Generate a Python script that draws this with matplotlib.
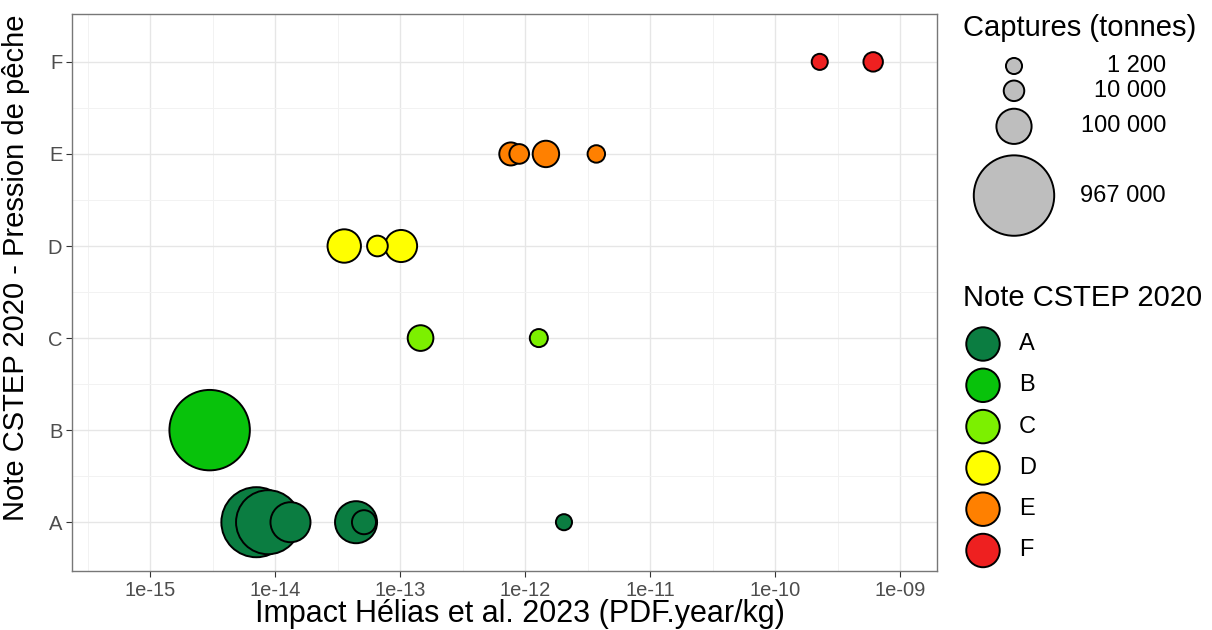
import numpy as np
import matplotlib
matplotlib.use("Agg")
import matplotlib.pyplot as plt

plt.rcParams['font.family'] = ['Liberation Sans', 'DejaVu Sans']

# Stocks: impact (PDF.year/kg), CSTEP grade, catches (tonnes)
impact = [3.0e-15, 7.1e-15, 8.8e-15, 4.45e-14, 1.33e-14, 1.02e-13, 3.58e-14,
          1.46e-13, 1.47e-12, 5.15e-14, 7.7e-13, 6.6e-14, 8.99e-13, 6.1e-10,
          1.29e-12, 3.72e-12, 2.05e-12, 2.28e-10]
grade = ['B', 'A', 'A', 'A', 'A', 'D', 'D',
         'C', 'E', 'A', 'E', 'D', 'E', 'F',
         'C', 'E', 'A', 'F']
catch_t = [967000, 690000, 550000, 174000, 150000, 73000, 84000,
           31000, 35000, 23000, 18800, 10400, 7600, 7100,
           4000, 3000, 1200, 1200]

grades = ['A', 'B', 'C', 'D', 'E', 'F']
grade_colors = ['#0B7D41', '#08C20B', '#7CF000', '#FFFF00', '#FF8000', '#EE2020']
size_breaks = [1200, 10000, 100000, 967000]
size_labels = ['1 200', '10 000', '100 000', '967 000']

DPI = 100
LW = 1.4


def radius_px(v):
    # bubble radius (pixels, stroke included) for a catch value
    return 7.85 + 0.0339 * np.sqrt(np.asarray(v, dtype=float))


def area_pt(r):
    d = 2 * np.asarray(r) * 72 / DPI - LW
    return d ** 2


fig = plt.figure(figsize=(12.12, 6.3), dpi=DPI)
W, H = 1212, 630
ax = fig.add_axes([72 / W, 1 - 571 / H, (937 - 72) / W, (571 - 14) / H])

ypos = [grades.index(g) + 1 for g in grade]
cols = [grade_colors[grades.index(g)] for g in grade]
ax.scatter(impact, ypos, s=area_pt(radius_px(catch_t)), c=cols,
           edgecolors='black', linewidths=LW, zorder=3)

ax.set_xscale('log')
ax.set_xlim(10 ** -15.624, 10 ** -8.704)
ax.set_ylim(0.47, 6.52)

exps = np.arange(-15, -8)
ax.set_xticks(10.0 ** exps)
ax.set_xticklabels([f"1e-{abs(e):02d}" for e in exps])
ax.set_xticks(10.0 ** np.arange(-15.5, -8.6, 1.0), minor=True)
ax.set_yticks(range(1, 7))
ax.set_yticklabels(grades)
ax.set_yticks(np.arange(1.5, 6.0, 1.0), minor=True)
ax.xaxis.set_minor_formatter(matplotlib.ticker.NullFormatter())

ax.grid(which='major', color='#E6E6E6', linewidth=1.0, zorder=0)
ax.grid(which='minor', color='#F2F2F2', linewidth=0.7, zorder=0)
ax.set_axisbelow(True)
ax.tick_params(which='major', length=4, width=0.8, color='#333333',
               labelsize=14.5, labelcolor='#4D4D4D', pad=3)
ax.tick_params(which='minor', length=0)
for sp in ax.spines.values():
    sp.set_color('#777777')
    sp.set_linewidth(1.0)

ax.set_xlabel('Impact Hélias et al. 2023 (PDF.year/kg)', fontsize=22)
ax.set_ylabel('Note CSTEP 2020 - Pression de pêche', fontsize=21)
ax.xaxis.set_label_coords((520 - 72) / 865, -0.05)
ax.yaxis.set_label_coords(-0.048, (571 - 268) / 557)

# legends, laid out in pixel coordinates
lax = fig.add_axes([0, 0, 1, 1], facecolor='none')
lax.set_xlim(0, W)
lax.set_ylim(H, 0)
lax.axis('off')

lax.text(963, 28, 'Captures (tonnes)', fontsize=21, va='center', ha='left')
rk = radius_px(size_breaks)
heights = 2.25 * rk + 2
centers = 66 - heights[0] / 2 + np.cumsum(heights) - heights / 2
lax.scatter(np.full(len(rk), 1014), centers, s=area_pt(rk), c='#BEBEBE',
            edgecolors='black', linewidths=LW)
for cy, lab in zip(centers, size_labels):
    lax.text(1166, cy, lab, fontsize=17, va='center', ha='right')

lax.text(963, 298, 'Note CSTEP 2020', fontsize=21, va='center', ha='left')
gy = 344 + 41.3 * np.arange(len(grades))
lax.scatter(np.full(len(grades), 983), gy, s=area_pt(np.full(len(grades), 17.7)),
            c=grade_colors, edgecolors='black', linewidths=LW)
for cy, lab in zip(gy, grades):
    lax.text(1019, cy, lab, fontsize=17, va='center', ha='left')

fig.savefig('out.png', dpi=DPI, facecolor='white')
